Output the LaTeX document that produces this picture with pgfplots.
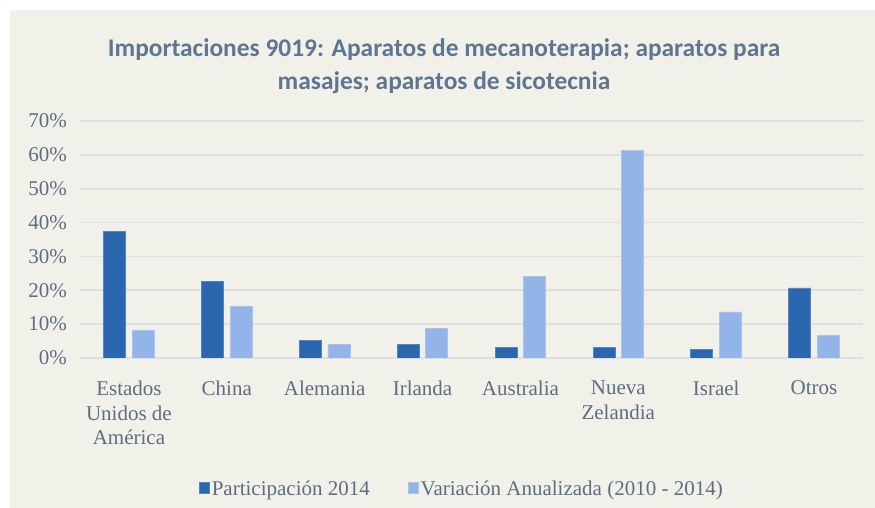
\documentclass[border=0pt]{standalone}
\usepackage{pgfplots}
\pgfplotsset{compat=1.18}
\usepackage{fontspec}
\setmainfont{Liberation Serif}
\newfontfamily\titlefont{Carlito}
\definecolor{bgc}{HTML}{F2F1E9}
\definecolor{darkb}{HTML}{2B67AF}
\definecolor{lightb}{HTML}{93B4E9}
\definecolor{gridc}{HTML}{DCE0E6}
\definecolor{txtc}{HTML}{5C6E84}
\definecolor{titc}{HTML}{5D7692}
\begin{document}
\begin{tikzpicture}
\path[use as bounding box] (0,0) rectangle (437.5pt,254pt);
\fill[white] (0,0) rectangle (437.5pt,254pt);
\fill[bgc] (5pt,0) rectangle (437.5pt,249pt);
\node[titc, align=center, font=\titlefont\bfseries\fontsize{12.7}{16.5}\selectfont] at (222pt,220.8pt)
 {Importaciones 9019: Aparatos de mecanoterapia; aparatos para\\masajes; aparatos de sicotecnia};
\begin{axis}[
  at={(40pt,75pt)}, anchor=south west,
  scale only axis, width=391.5pt, height=118.5pt,
  xmin=-0.5, xmax=7.5, ymin=0, ymax=70,
  ytick={0,10,...,70},
  yticklabel={\pgfmathprintnumber{\tick}\%},
  /pgf/number format/assume math mode=true,
  xtick=data,
  xticklabels={{Estados\\Unidos de\\América},China,Alemania,Irlanda,Australia,{Nueva\\Zelandia},Israel,Otros},
  xticklabel style={align=center, font=\fontsize{10.5}{12.25}\selectfont, text=txtc, anchor=north, yshift=-8pt},
  yticklabel style={font=\fontsize{10.5}{12}\selectfont, text=txtc, xshift=-3pt},
  axis line style={draw=none},
  major tick length=0pt,
  ymajorgrids, grid style={gridc, line width=0.8pt},
  ybar, bar width=11pt,
  legend style={at={(0.489,-0.555)}, anchor=center, draw=none, fill=none,
    legend columns=2, font=\fontsize{10.5}{12}\selectfont, text=txtc,
    /tikz/every even column/.append style={column sep=17pt},
    /tikz/every odd column/.append style={column sep=-1pt}},
  legend image code/.code={\fill[#1] (0pt,-1.8pt) rectangle (5pt,3.4pt);},
]
\addplot[fill=darkb, draw=darkb!80!white, bar shift=-7.15pt] coordinates {(0,37.4) (1,22.7) (2,5.2) (3,3.9) (4,3.0) (5,3.0) (6,2.5) (7,20.7)};
\addlegendentry{Participación 2014}
\addplot[fill=lightb, draw=lightb!80!white, bar shift=7.15pt] coordinates {(0,8.1) (1,15.1) (2,3.9) (3,8.7) (4,24.2) (5,61.3) (6,13.6) (7,6.6)};
\addlegendentry{Variación Anualizada (2010 - 2014)}
\end{axis}
\end{tikzpicture}
\end{document}
